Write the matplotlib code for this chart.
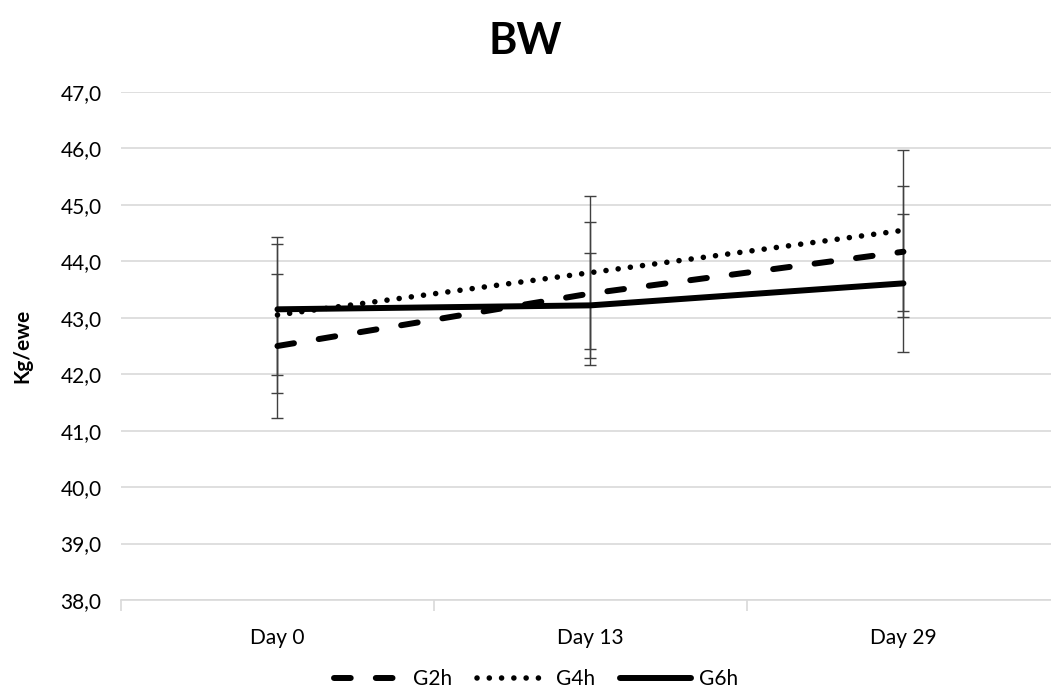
import numpy as np
import matplotlib
matplotlib.use('Agg')
import matplotlib.pyplot as plt

# Data
days = ['Day 0', 'Day 13', 'Day 29']
g2h = [42.50, 43.43, 44.17]
g2h_err = [1.27, 1.27, 1.16]
g4h = [43.05, 43.80, 44.55]
g4h_err = [1.375, 1.36, 1.43]
g6h = [43.15, 43.22, 43.61]
g6h_err = [1.165, 0.93, 1.22]

plt.rcParams['font.family'] = ['Lato', 'DejaVu Sans']

fig = plt.figure(figsize=(10.51, 6.99), dpi=100)
ax = fig.add_axes([0.1151, 0.1416, 0.8934, 0.7268])

x = np.arange(len(days))
err_kw = dict(fmt='none', ecolor='#404040', elinewidth=1.0, capsize=4.3, capthick=1.0, zorder=2)

ax.errorbar(x, g2h, yerr=g2h_err, **err_kw)
ax.errorbar(x, g4h, yerr=g4h_err, **err_kw)
ax.errorbar(x, g6h, yerr=g6h_err, **err_kw)

ax.plot(x, g2h, color='black', lw=4.3, linestyle=(0, (2.8, 4.2)),
        dash_capstyle='round', solid_capstyle='round', label='G2h', zorder=3)
ax.plot(x, g4h, color='black', lw=4.0, linestyle=(0, (0.01, 2.2)),
        dash_capstyle='round', label='G4h', zorder=3)
ax.plot(x, g6h, color='black', lw=4.3, solid_capstyle='round', label='G6h', zorder=3)

ax.set_xlim(-0.5, 2.5)
ax.set_ylim(38, 47)
ax.set_yticks(np.arange(38, 47.1, 1))
ax.set_yticklabels([f'{v:.1f}'.replace('.', ',') for v in np.arange(38, 47.1, 1)])
ax.set_xticks(x)
ax.set_xticklabels(days)
ax.set_xticks([-0.5, 0.5, 1.5, 2.5], minor=True)
ax.tick_params(axis='x', which='major', length=0, pad=20, labelsize=15)
ax.tick_params(axis='x', which='minor', length=8, color='#d9d9d9', width=1.2)
ax.tick_params(axis='y', length=0, pad=14, labelsize=15)

ax.grid(axis='y', color='#d9d9d9', lw=1.2, zorder=0)
ax.set_axisbelow(True)
for s in ['top', 'right', 'left']:
    ax.spines[s].set_visible(False)
ax.spines['bottom'].set_color('#d9d9d9')
ax.spines['bottom'].set_linewidth(1.2)

ax.set_ylabel('Kg/ewe', fontsize=15, fontweight='bold', labelpad=20)
fig.text(0.5, 0.942, 'BW', ha='center', va='center', fontsize=31, fontweight='bold')

fig.legend(loc='center', bbox_to_anchor=(0.51, 0.028), ncol=3, frameon=False,
           fontsize=15, handlelength=3.4, columnspacing=1.2, handletextpad=0.4)

fig.savefig('out.png', dpi=100)
plt.close()
